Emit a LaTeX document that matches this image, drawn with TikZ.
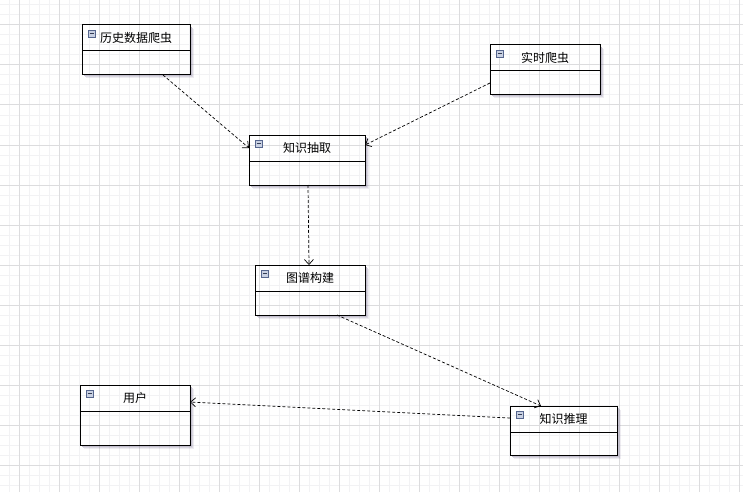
\documentclass[tikz,border=0pt]{standalone}
\usepackage{fontspec}
\newfontfamily\cjk{Noto Sans CJK SC}
\usetikzlibrary{arrows.meta,calc}
\definecolor{minorgrid}{HTML}{F2F2F4}
\definecolor{majorgrid}{HTML}{DCDCDE}
\definecolor{iconfill}{HTML}{C9D1E3}
\definecolor{icondraw}{HTML}{56668E}
\definecolor{shadowc}{HTML}{5A4E78}
\tikzset{
  umlrect/.style={draw=black, line width=1pt, inner sep=0pt, outer sep=0pt},
  umlline/.style={draw=black, line width=1pt},
  umlicon/.style={draw=icondraw, fill=iconfill, line width=0.6pt, minimum width=7pt, minimum height=7pt, inner sep=0pt},
  umltitle/.style={font=\cjk\fontsize{12}{14}\selectfont, inner sep=0pt},
  depend/.style={draw=black, line width=0.7pt, dash pattern=on 3pt off 2pt, -{Straight Barb[length=5pt,width=9pt,line width=0.7pt]}},
}
\newcommand\umlbox[6]{%
  \foreach \i/\o in {1/0.35,2/0.22,3/0.1}{
    \draw[shadowc, line width=1pt, opacity=\o] ($(#2,#3)+(#4,0)+(\i,\i+1)$) -- ($(#2,#3)+(#4,#5)+(\i,\i)$) -- ($(#2,#3)+(0,#5)+(\i+1,\i)$);
  }
  \node[umlrect, minimum width=#4, minimum height=#5, anchor=north west] (#1) at (#2,#3) {};
  \draw[umlline] ($(#1.north west)+(0,26)$) -- ($(#1.north east)+(0,26)$);
  \node[umlicon] (#1-icon) at ($(#1.north west)+(9.5,8.5)$) {};
  \draw[icondraw!60!black, line width=0.8pt] ($(#1-icon.center)+(-2,0)$) -- ($(#1-icon.center)+(2,0)$);
  \node[umltitle] (#1-title) at ($(#1.north)+(0,13)$) {#6};
}
\begin{document}
\begin{tikzpicture}[x=1pt,y=-1pt]
\useasboundingbox (0,0) rectangle (743,492);
\fill[white] (0,0) rectangle (743,492);
\foreach \x in {9,19,...,739} \draw[minorgrid, line width=1pt] (\x,0) -- (\x,492);
\foreach \y in {5,15,...,485} \draw[minorgrid, line width=1pt] (0,\y) -- (743,\y);
\foreach \x in {19,59,...,739} \draw[majorgrid, line width=1pt] (\x,0) -- (\x,492);
\foreach \y in {25,65,...,465} \draw[majorgrid, line width=1pt] (0,\y) -- (743,\y);

\umlbox{hist}{82}{25}{108}{50}{历史数据爬虫}
\umlbox{rt}{490}{45}{110}{50}{实时爬虫}
\umlbox{know}{249}{135}{116}{50}{知识抽取}
\umlbox{graph}{255}{265}{110}{50}{图谱构建}
\umlbox{user}{80}{385}{110}{60}{用户}
\umlbox{reason}{510}{406}{107}{49}{知识推理}

\draw[depend] ($(hist.south west)+(81,0)$) -- ($(know.north west)+(0,13)$);
\draw[depend] ($(rt.north west)+(0,38)$) -- ($(know.north east)+(0,10)$);
\draw[depend] ($(know.south west)+(59,0)$) -- ($(graph.north west)+(54,0)$);
\draw[depend] ($(graph.south west)+(82,0)$) -- ($(reason.north west)+(31,0)$);
\draw[depend] ($(reason.north west)+(0,12)$) -- ($(user.north east)+(0,17)$);
\end{tikzpicture}
\end{document}
